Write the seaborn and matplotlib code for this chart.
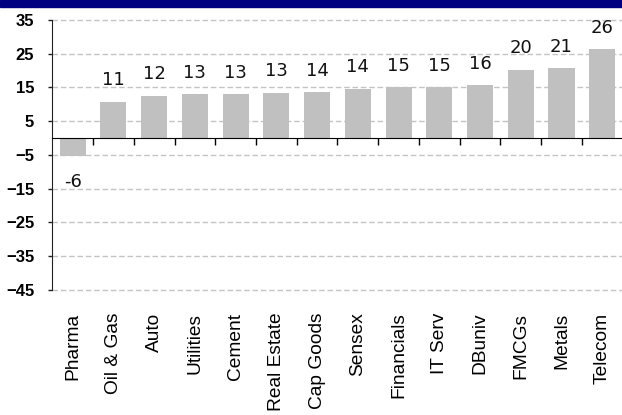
import numpy as np
import matplotlib
matplotlib.use("Agg")
import matplotlib.pyplot as plt
from matplotlib.patches import Rectangle
from matplotlib.ticker import FixedLocator
import seaborn as sns

sectors = ["Pharma", "Oil & Gas", "Auto", "Utilities", "Cement", "Real Estate",
           "Cap Goods", "Sensex", "Financials", "IT Serv", "DBuniv", "FMCGs",
           "Metals", "Telecom"]
values = [-5.5, 10.8, 12.5, 13.0, 13.0, 13.4, 13.6, 14.6, 15.0, 15.0, 15.7,
          20.2, 20.7, 26.3]
value_labels = ["-6", "11", "12", "13", "13", "13", "14", "14", "15", "15",
                "16", "20", "21", "26"]
yticks = [35, 25, 15, 5, -5, -15, -25, -35, -45]

fig = plt.figure(figsize=(6.22, 4.15), dpi=100)
fig.add_artist(Rectangle((0, 1 - 7.5 / 415), 1, 7.5 / 415, transform=fig.transFigure,
                         color="#000080", zorder=10))
ax = fig.add_axes([52.3 / 622, 1 - 289.6 / 415, (622.6 - 52.3) / 622, 269.6 / 415])

sns.barplot(x=sectors, y=values, color="#C0C0C0", saturation=1, width=0.64, ax=ax)

ax.set_ylim(-45, 35)
ax.set_xlim(-0.5, len(sectors) - 0.5)
ax.set_yticks(yticks)
ax.yaxis.grid(True, linestyle=(0, (4, 2)), color="#C4C4C4", lw=1)
for gl in ax.get_ygridlines():
    gl.set_clip_on(False)
ax.set_axisbelow(True)

# x axis line sits at zero, labels stay at the bottom
ax.spines["right"].set_visible(False)
ax.spines["bottom"].set_visible(False)
ax.spines["top"].set_position(("data", 0))
ax.spines["top"].set_zorder(5)
ax.spines["left"].set_color("#222222")
ax.spines["top"].set_color("black")

ax.xaxis.set_minor_locator(FixedLocator(np.arange(len(sectors)) + 0.5))
ax.tick_params(axis="x", which="major", bottom=False, top=False, labelbottom=True,
               labeltop=False, pad=13, labelsize=13.8, labelrotation=90)
ax.tick_params(axis="x", which="minor", bottom=False, top=True, direction="in",
               length=5, width=1, color="black")
ax.tick_params(axis="y", length=3, width=1, color="#222222", pad=10)
for lab in ax.get_xticklabels():
    lab.set_fontfamily("Liberation Sans")
    lab.set_va("top")
for lab in ax.get_yticklabels():
    lab.set_fontfamily("Liberation Sans")
    lab.set_fontweight("bold")
    lab.set_fontsize(12)

for i, (v, lab) in enumerate(zip(values, value_labels)):
    if v >= 0:
        ax.annotate(lab, (i, v), xytext=(0, 9), textcoords="offset points",
                    ha="center", va="bottom", fontsize=13, color="#111111")
    else:
        ax.annotate(lab, (i, v), xytext=(0, -12), textcoords="offset points",
                    ha="center", va="top", fontsize=13, color="#111111")

ax.set_xlabel("")
ax.set_ylabel("")
fig.savefig("out.png", dpi=100)
